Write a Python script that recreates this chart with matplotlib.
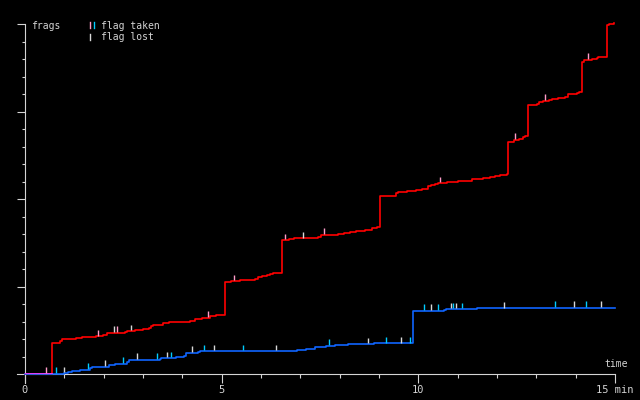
#frag_graph.py:
    #Team frags over a 15 min CTF game, red vs blue
    #step lines for both teams, small ticks where a flag was taken or lost

import numpy as np
import matplotlib
matplotlib.use('Agg')
import matplotlib.pyplot as plt
from matplotlib.lines import Line2D

#Red team score steps (minutes, frags)
red_t = [0, 0.69, 0.90, 0.95, 1.30, 1.46, 1.81, 1.94, 1.99, 2.09, 2.55, 2.60, 2.80, 3.01,
         3.06, 3.16, 3.21, 3.26, 3.52, 3.67, 4.15, 4.20, 4.31, 4.51, 4.71, 4.86, 4.97, 5.09,
         5.24, 5.47, 5.64, 5.85, 5.93, 6.02, 6.15, 6.23, 6.31, 6.54, 6.70, 6.85, 7.23, 7.46,
         7.52, 7.97, 8.12, 8.27, 8.42, 8.58, 8.65, 8.82, 8.96, 9.03, 9.26, 9.42, 9.48, 9.72,
         9.94, 10.09, 10.25, 10.32, 10.43, 10.49, 10.74, 10.79, 11.02, 11.37, 11.65, 11.82,
         11.95, 12.08, 12.25, 12.29, 12.43, 12.57, 12.65, 12.70, 12.80, 13.01, 13.08, 13.18,
         13.33, 13.39, 13.56, 13.62, 13.73, 13.81, 14.03, 14.09, 14.15, 14.21, 14.41, 14.54,
         14.58, 14.79, 14.84, 14.98]
red_f = [0, 36, 38, 40, 41, 42, 43, 44, 45, 47, 48, 49, 50, 51,
         52, 53, 55, 56, 58, 59, 60, 61, 63, 64, 66, 67, 68, 105,
         106, 107, 108, 109, 111, 112, 113, 114, 116, 153, 154, 155, 156, 157,
         159, 160, 161, 162, 163, 164, 165, 167, 168, 203, 204, 207, 208, 209,
         210, 212, 215, 216, 217, 218, 219, 220, 221, 223, 224, 225,
         226, 228, 229, 265, 268, 269, 271, 272, 308, 309, 311, 312,
         313, 314, 315, 316, 317, 320, 321, 322, 357, 359, 360, 361,
         362, 399, 400, 401]

#Blue team score steps
blue_t = [0, 1.00, 1.10, 1.20, 1.25, 1.41, 1.66, 1.71, 2.14, 2.30, 2.40, 2.60, 2.65, 3.42,
          3.47, 3.85, 3.90, 4.05, 4.10, 4.41, 4.46, 6.92, 7.15, 7.38, 7.66, 7.89, 8.20, 8.88,
          9.87, 10.66, 10.71, 11.48, 12.90, 14.99]
blue_f = [0, 1, 2, 3, 4, 5, 7, 8, 10, 11, 12, 14, 16, 17,
          18, 19, 20, 21, 24, 25, 26, 28, 29, 31, 32, 33, 34, 35,
          72, 73, 74, 75, 76, 76]

#Flag events (minutes)
red_taken = [0.54, 1.86, 2.35, 4.66, 5.32, 6.62, 7.59, 10.56, 12.47, 13.23, 14.32]
red_lost = [2.25, 2.70, 7.08]
blue_taken = [0.80, 1.61, 2.50, 3.36, 3.72, 4.56, 5.55, 7.74, 9.19, 9.80, 10.15, 10.51,
              10.89, 11.12, 13.48, 14.27]
blue_lost = [1.00, 2.04, 2.86, 3.62, 4.25, 4.81, 6.39, 8.73, 9.57, 10.33, 10.84, 10.97,
             12.19, 13.97, 14.65]

x_ticks = [0, 5, 10, 15]
x_labels = ['0', '5', '10', '15 min']

#colours
fg = '#d4d4d4'
red_c = '#ff0000'
blue_c = '#0f64ff'
pink_c = '#ff9cc8'
cyan_c = '#00ccff'
lost_c = '#d8d8d8'
both_c = '#ff3cff'
mono = 'DejaVu Sans Mono'


def value_at(times, vals, t):
    #step value (post) of a series at times t
    idx = np.searchsorted(times, t, side='right') - 1
    return np.asarray(vals)[idx]


fig = plt.figure(figsize=(6.4, 4), dpi=100, facecolor='black')
ax = fig.add_axes([25 / 640, 26 / 400, 590 / 640, 350 / 400])
ax.set_facecolor('black')
ax.set_xlim(0, 15)
ax.set_ylim(0, 400)
for s in ax.spines.values():
    s.set_visible(False)

#axis lines, a bit past the origin like the original
ax.plot([-8 / 39.33, 15], [0, 0], color=fg, lw=0.8, clip_on=False, zorder=1)
ax.plot([0, 0], [-10, 400], color=fg, lw=0.8, clip_on=False, zorder=1)

ax.set_xticks(x_ticks)
ax.set_xticklabels(x_labels, fontfamily=mono)
ax.set_xticks(range(16), minor=True)
ax.set_yticks([100, 200, 300, 400])
ax.set_yticklabels([])
ax.set_yticks(range(20, 400, 20), minor=True)
ax.tick_params(axis='x', which='major', direction='out', color=fg, width=0.8, length=6.2,
               labelcolor=fg, labelsize=7.5, pad=2)
ax.tick_params(axis='x', which='minor', direction='out', color=fg, width=0.8, length=2.9)
ax.tick_params(axis='y', which='major', direction='out', color=fg, width=0.8, length=5.8)
ax.tick_params(axis='y', which='minor', direction='out', color=fg, width=0.8, length=2.2)

#score lines
ax.step(red_t, red_f, where='post', color=red_c, lw=1.2, clip_on=False, zorder=3)
ax.step(blue_t, blue_f, where='post', color=blue_c, lw=1.2, clip_on=False, zorder=3)

#where both teams are still on zero
red_start = red_t[np.nonzero(red_f)[0][0]]
blue_start = blue_t[np.nonzero(blue_f)[0][0]]
ax.plot([0, min(red_start, blue_start)], [0, 0], color=both_c, lw=1.2, zorder=4)

#flag ticks sitting on top of each line
tick_len = 6.5
for times, series_t, series_f, col in [(red_taken, red_t, red_f, pink_c),
                                       (red_lost, red_t, red_f, lost_c),
                                       (blue_taken, blue_t, blue_f, cyan_c),
                                       (blue_lost, blue_t, blue_f, lost_c)]:
    base = value_at(series_t, series_f, times)
    ax.vlines(times, base + 1, base + 1 + tick_len, colors=col, lw=1.0, zorder=5)

#labels
fig.text(31 / 640, 1 - 29 / 400, 'frags', color=fg, fontsize=7, fontfamily=mono, va='baseline')
fig.text(101 / 640, 1 - 29 / 400, 'flag taken', color=fg, fontsize=7, fontfamily=mono, va='baseline')
fig.text(101 / 640, 1 - 39.5 / 400, 'flag lost', color=fg, fontsize=7, fontfamily=mono, va='baseline')
fig.text(604 / 640, 1 - 367 / 400, 'time', color=fg, fontsize=7, fontfamily=mono, va='baseline')

#legend ticks
for x, y0, y1, col in [(90, 22, 28, pink_c), (94, 22, 28, cyan_c), (90, 34, 40, lost_c)]:
    fig.add_artist(Line2D([x / 640, x / 640], [1 - y0 / 400, 1 - y1 / 400],
                          color=col, lw=1.0, transform=fig.transFigure))

fig.savefig('out.png', dpi=100, facecolor='black')
